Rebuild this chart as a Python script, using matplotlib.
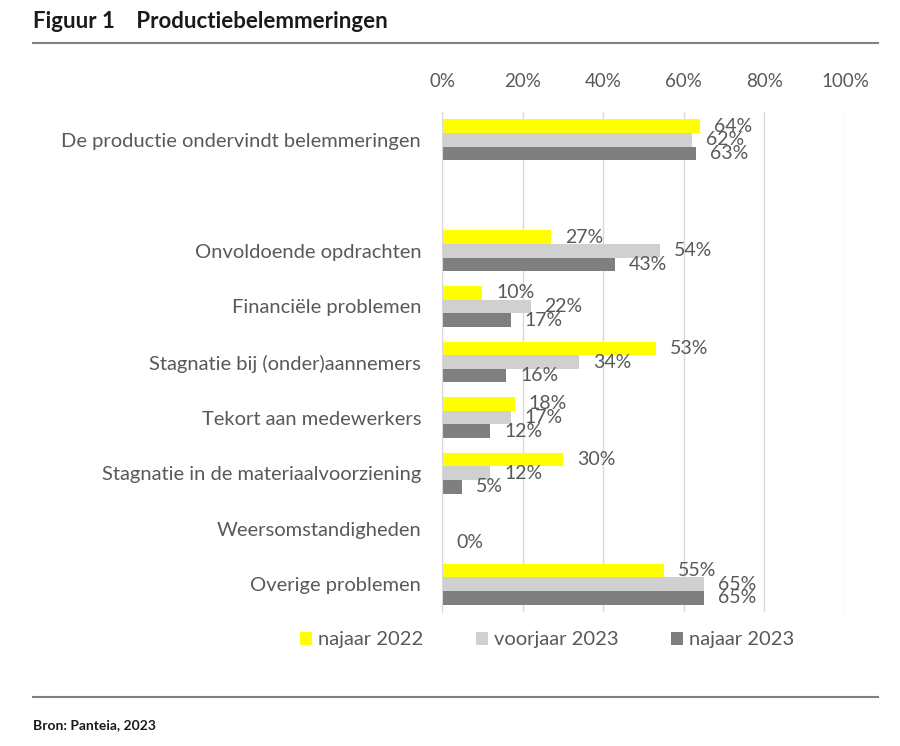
import numpy as np
import matplotlib
matplotlib.use("Agg")
import matplotlib.pyplot as plt
from matplotlib.patches import Patch
from matplotlib.lines import Line2D

plt.rcParams["font.family"] = ["Lato", "DejaVu Sans"]

categories = [
    "De productie ondervindt belemmeringen",
    "",
    "Onvoldoende opdrachten",
    "Financiële problemen",
    "Stagnatie bij (onder)aannemers",
    "Tekort aan medewerkers",
    "Stagnatie in de materiaalvoorziening",
    "Weersomstandigheden",
    "Overige problemen",
]
series_names = ["najaar 2022", "voorjaar 2023", "najaar 2023"]
najaar_2022 = [64, np.nan, 27, 10, 53, 18, 30, np.nan, 55]
voorjaar_2023 = [62, np.nan, 54, 22, 34, 17, 12, np.nan, 65]
najaar_2023 = [63, np.nan, 43, 17, 16, 12, 5, 0, 65]
x_ticks = [0, 20, 40, 60, 80, 100]

colors = ["#FFFF00", "#D0D0D0", "#7F7F7F"]
text_color = "#595959"

fig = plt.figure(figsize=(9, 7.46), dpi=100)
ax = fig.add_axes([442 / 900, 1 - 612 / 746, 403 / 900, 500 / 746])

y = np.arange(len(categories))
bar_h = 0.245
for i, (vals, col) in enumerate(zip([najaar_2022, voorjaar_2023, najaar_2023], colors)):
    offs = (i - 1) * bar_h
    ax.barh(y + offs, vals, height=bar_h, color=col, zorder=2)
    for yy, v in zip(y, vals):
        if np.isnan(v):
            continue
        ax.annotate(f"{v:.0f}%", (v, yy + offs), xytext=(10, 0),
                    textcoords="offset points", va="center", ha="left",
                    fontsize=14, color=text_color)

ax.set_xlim(0, 100)
ax.set_ylim(len(categories) - 0.5, -0.5)
ax.set_xticks(x_ticks)
ax.set_xticklabels([f"{t}%" for t in x_ticks], fontsize=13.5, color=text_color)
ax.xaxis.tick_top()
ax.tick_params(axis="x", length=0, pad=16)
ax.set_yticks(y)
ax.set_yticklabels(categories, fontsize=14.5, color=text_color)
ax.tick_params(axis="y", length=0, pad=15)
ax.grid(axis="x", color="#D9D9D9", linewidth=1, zorder=0)
for side in ["top", "right", "bottom"]:
    ax.spines[side].set_visible(False)
ax.spines["left"].set_color("#D9D9D9")
ax.spines["left"].set_zorder(3)

handles = [Patch(facecolor=c, edgecolor="none") for c in colors]
fig.legend(handles, series_names, loc="center", ncol=3,
           bbox_to_anchor=(547 / 900, 1 - 640 / 746), frameon=False,
           fontsize=14.5, labelcolor=text_color, handlelength=0.6,
           handleheight=0.6, handletextpad=0.3, columnspacing=2.6)

# title block and source
fig.text(33 / 900, 1 - 22 / 746, "Figuur 1    Productiebelemmeringen",
         fontsize=16, fontweight="bold", color="#1a1a1a", va="center", ha="left")
for yl in [43, 697]:
    fig.add_artist(Line2D([33 / 900, 878 / 900], [1 - yl / 746] * 2,
                          color="#808080", linewidth=1.5))
fig.text(33 / 900, 1 - 725 / 746, "Bron: Panteia, 2023",
         fontsize=10, fontweight="bold", color="#1a1a1a", va="center", ha="left")

fig.savefig("out.png", dpi=100, facecolor="white")
